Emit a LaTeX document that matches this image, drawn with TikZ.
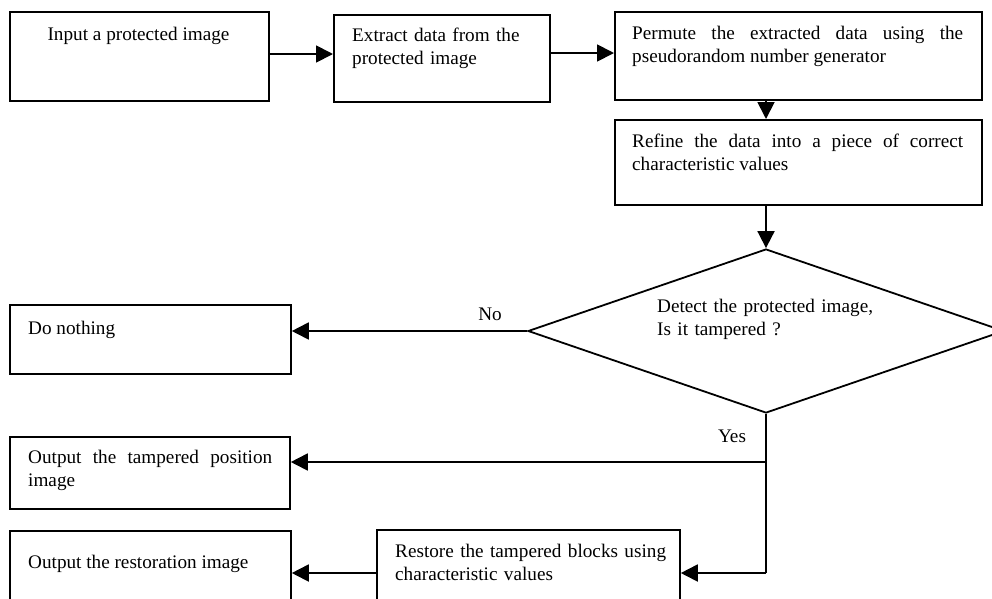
\documentclass[tikz,border=0pt]{standalone}
\usepackage{fontspec}
\setmainfont{Liberation Serif}
\usetikzlibrary{arrows.meta,shapes.geometric}
\hyphenpenalty=10000
\exhyphenpenalty=10000
\begin{document}
\begin{tikzpicture}[x=1pt,y=-1pt,
  box/.style={draw,line width=1.8pt,inner sep=0pt,anchor=north west},
  txt/.style={inner sep=0pt,anchor=base west,font=\fontsize{19.2}{23.5}\selectfont},
  arr/.style={line width=1.8pt,-{Triangle[length=17pt,width=17pt]}},
  ln/.style={line width=1.8pt}]
\useasboundingbox (0,0) rectangle (992,598);
% boxes
\node[box,minimum width=259pt,minimum height=89pt] (b1) at (9,11) {};
\node[box,minimum width=216pt,minimum height=87pt] (b2) at (333,14) {};
\node[box,minimum width=367pt,minimum height=88pt] (b3) at (614,11) {};
\node[box,minimum width=367pt,minimum height=85pt] (b4) at (614,119) {};
\node[draw,line width=1.8pt,shape=diamond,inner sep=0pt,minimum width=476pt,minimum height=164pt] (d) at (766,331) {};
\node[box,minimum width=281pt,minimum height=69pt] (dn) at (9,304) {};
\node[box,minimum width=280pt,minimum height=72pt] (ot) at (9,436) {};
\node[box,minimum width=281pt,minimum height=80pt] (orr) at (9,530) {};
\node[box,minimum width=303pt,minimum height=80pt] (rs) at (376,529) {};
% texts
\node[txt,anchor=base] (t1) at (138.5,40) {Input a protected image};
\node[txt,text width=195pt,align=left] (t2) at (352,41) {Extract data from the\\protected image};
\node[txt,text width=331pt,align=justify] (t3) at (632,39) {Permute the extracted data using the pseudorandom number generator};
\node[txt,text width=331pt,align=justify] (t4) at (632,147) {Refine the data into a piece of correct characteristic values};
\node[txt,text width=240pt,align=left] (td) at (657,312) {Detect the protected image,\\Is it tampered ?};
\node[txt] (tdn) at (28,334) {Do nothing};
\node[txt,text width=244pt,align=justify] (tot) at (28,463) {Output the tampered position image};
\node[txt] (tor) at (28,568) {Output the restoration image};
\node[txt,text width=280pt,align=left] (trs) at (395,557) {Restore the tampered blocks using\\characteristic values};
\node[txt,anchor=base] (no) at (490,320) {No};
\node[txt,anchor=base] (yes) at (732,442) {Yes};
% junctions
\coordinate (j1) at (766,462);
\coordinate (j2) at (766,573);
% connectors
\draw[arr] (b1.east |- 0,54) -- (b2.west |- 0,54);
\draw[arr] (b2.east |- 0,53) -- (b3.west |- 0,53);
\draw[arr] (b3.south -| 766,0) -- (b4.north -| 766,0);
\draw[arr] (b4.south -| 766,0) -- (d.north);
\draw[arr] (d.west) -- (dn.east |- d.west);
\draw[ln] (d.south) -- (j2);
\draw[arr] (j1) -- (ot.east |- j1);
\draw[arr] (j2) -- (rs.east |- j2);
\draw[arr] (rs.west |- j2) -- (orr.east |- j2);
\end{tikzpicture}
\end{document}
